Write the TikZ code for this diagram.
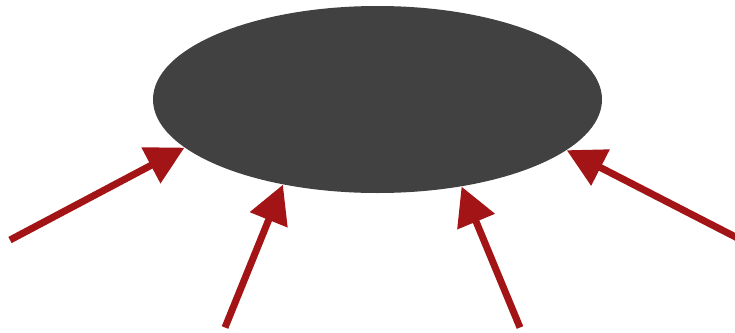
\documentclass[tikz,border=0pt]{standalone}
\usepackage{tikz}
\usetikzlibrary{arrows.meta,shapes.geometric}
\definecolor{hubgrey}{RGB}{65,65,65}
\definecolor{arrred}{RGB}{163,20,22}

\begin{document}
\begin{tikzpicture}[
  hub/.style={ellipse, fill=hubgrey, inner sep=0pt, minimum width=8.98cm, minimum height=3.74cm},
  arr/.style={-{Triangle[length=0.76cm, width=0.78cm]}, line width=0.14cm, draw=arrred}
]
\useasboundingbox (0,0) rectangle (14.7,-6.64);
\node[hub] (core) at (7.55,-1.99) {};
\coordinate (src1) at (0.2,-4.8);
\coordinate (src2) at (4.5,-6.55);
\coordinate (src3) at (10.4,-6.55);
\coordinate (src4) at (14.75,-4.76);
\draw[arr] (src1) -- (core.194.6);
\draw[arr] (src2) -- (core.222.5);
\draw[arr] (src3) -- (core.314.5);
\draw[arr] (src4) -- (core.345.4);
\end{tikzpicture}
\end{document}
